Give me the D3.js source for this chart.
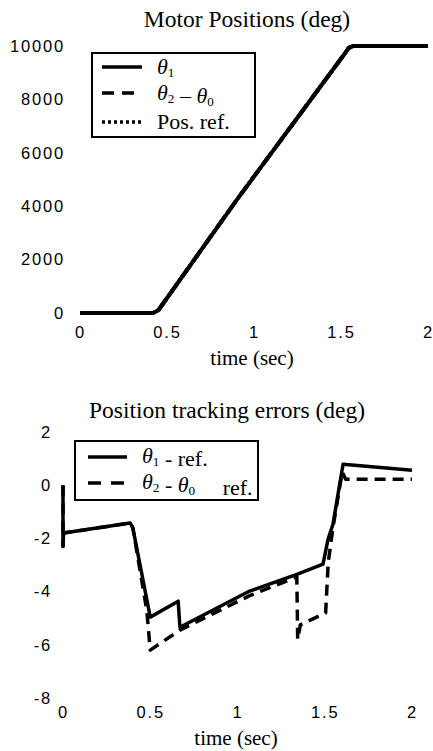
<!DOCTYPE html>
<html>
<head>
<meta charset="utf-8">
<script src="https://cdn.jsdelivr.net/npm/d3@7"></script>
<style>
  body { margin: 0; background: #fff; }
  svg { display: block; }
  .tick text { font-family: "Liberation Sans", Arial, sans-serif; font-size: 16.5px; letter-spacing: 1.8px; fill: #000; }
  .serif { font-family: "Liberation Serif", "Times New Roman", serif; fill: #000; white-space: pre; }
</style>
</head>
<body>
<svg id="chart" width="433" height="751"></svg>
<script>
// --- top panel: motor positions ---
const posTicksX = [0, 0.5, 1, 1.5, 2];
const posTicksY = [0, 2000, 4000, 6000, 8000, 10000];
const posTime   = [0, 0.42, 0.45, 0.48, 0.9, 1.24, 1.52, 1.545, 1.57, 2];
const theta1Pos = [0, 0, 100, 375, 4230, 7230, 9700, 9930, 10000, 10000];
const theta20Pos = [0, 0, 100, 375, 4230, 7230, 9700, 9930, 10000, 10000];
const refPos    = [0, 0, 100, 375, 4230, 7230, 9700, 9930, 10000, 10000];
const posLegend = ["θ_1", "θ_2 – θ_0", "Pos. ref."];

// --- bottom panel: tracking errors ---
const errTicksX = [0, 0.5, 1, 1.5, 2];
const errTicksY = [-8, -6, -4, -2, 0, 2];
const err1Time = [0, 0, 0.003, 0.385, 0.40, 0.5, 0.66, 0.67, 1.07, 1.34, 1.49, 1.519, 1.547, 1.605, 2];
const err1     = [0, -2.3, -1.8, -1.42, -1.6, -4.96, -4.36, -5.34, -3.98, -3.35, -2.97, -2.03, -1.47, 0.79, 0.56];
const err2Time = [0, 0, 0.003, 0.385, 0.40, 0.48, 0.5, 0.67, 1.07, 1.34, 1.345, 1.36, 1.505, 1.52, 1.547, 1.6, 1.62, 2];
const err2     = [0, -2.3, -1.8, -1.42, -1.6, -4.7, -6.2, -5.45, -4.15, -3.45, -5.8, -5.25, -4.8, -2.9, -1.6, 0.5, 0.22, 0.22];
const errLegend = ["θ_1 - ref.", "θ_2 - θ_0     ref."];

const svg = d3.select("#chart");
svg.append("rect").attr("width", 433).attr("height", 751).attr("fill", "#fff");

// write "θ_1" style labels with italic theta and a small subscript
function richText(sel, str) {
  str.split(/(θ_\d)/).filter(s => s.length).forEach(part => {
    if (part.startsWith("θ_")) {
      sel.append("tspan").attr("font-style", "italic").text("θ");
      sel.append("tspan").attr("font-size", "0.6em").attr("dy", 3).text(part[2]);
      sel.append("tspan").attr("dy", -3).text("");
    } else {
      sel.append("tspan").text(part);
    }
  });
}

function drawPanel(cfg) {
  const x = d3.scaleLinear().domain([0, 2]).range(cfg.xRange);
  const y = d3.scaleLinear().domain(cfg.yDomain).range(cfg.yRange);

  const yAxis = svg.append("g")
    .attr("transform", `translate(${cfg.xRange[0]},0)`)
    .call(d3.axisLeft(y).tickValues(cfg.ticksY).tickSize(0).tickPadding(cfg.padY).tickFormat(d => String(d)));
  yAxis.select(".domain").remove();

  const xAxis = svg.append("g")
    .attr("transform", `translate(0,${cfg.yRange[0]})`)
    .call(d3.axisBottom(x).tickValues(cfg.ticksX).tickSize(0).tickPadding(cfg.padX).tickFormat(d => String(d)));
  xAxis.select(".domain").remove();

  svg.append("text").attr("class", "serif")
    .attr("x", cfg.titleX).attr("y", cfg.titleY)
    .attr("text-anchor", "middle").attr("font-size", 23.5)
    .text(cfg.title);

  svg.append("text").attr("class", "serif")
    .attr("x", cfg.labelX).attr("y", cfg.labelY)
    .attr("text-anchor", "middle").attr("font-size", 21)
    .text("time (sec)");

  const line = d3.line().x(d => x(d[0])).y(d => y(d[1]));
  cfg.series.forEach(s => {
    svg.append("path")
      .datum(d3.zip(s.t, s.v))
      .attr("d", line)
      .attr("fill", "none")
      .attr("stroke", "#000")
      .attr("stroke-width", cfg.width)
      .attr("stroke-linejoin", "round")
      .attr("stroke-dasharray", s.dash);
  });

  // legend
  const lg = cfg.legend;
  svg.append("rect")
    .attr("x", lg.x).attr("y", lg.y).attr("width", lg.w).attr("height", lg.h)
    .attr("fill", "#fff").attr("stroke", "#000").attr("stroke-width", 2);
  cfg.series.forEach((s, i) => {
    svg.append("line")
      .attr("x1", lg.sx0).attr("x2", lg.sx1)
      .attr("y1", lg.rows[i]).attr("y2", lg.rows[i])
      .attr("stroke", "#000").attr("stroke-width", 3.5)
      .attr("stroke-dasharray", s.legendDash || s.dash);
    const t = svg.append("text").attr("class", "serif")
      .attr("x", lg.tx).attr("y", lg.rows[i] + lg.base)
      .attr("font-size", 22);
    richText(t, s.label);
  });
}

drawPanel({
  xRange: [80, 428], yDomain: [0, 10000], yRange: [313, 46],
  ticksX: posTicksX, ticksY: posTicksY, padY: 15, padX: 13,
  title: "Motor Positions (deg)", titleX: 247, titleY: 27,
  labelX: 252, labelY: 365, width: 4,
  series: [
    { t: posTime, v: theta1Pos, dash: null, label: posLegend[0] },
    { t: posTime, v: theta20Pos, dash: "12,8", label: posLegend[1] },
    { t: posTime, v: refPos, dash: "3,3", label: posLegend[2] }
  ],
  legend: { x: 92, y: 53, w: 163, h: 84, sx0: 102, sx1: 142, tx: 157, rows: [67, 93, 122], base: 7 }
});

drawPanel({
  xRange: [63, 412], yDomain: [-8, 2], yRange: [698, 432],
  ticksX: errTicksX, ticksY: errTicksY, padY: 11, padX: 8,
  title: "Position tracking errors (deg)", titleX: 227, titleY: 418,
  labelX: 236, labelY: 745, width: 3.5,
  series: [
    { t: err1Time, v: err1, dash: null, label: errLegend[0] },
    { t: err2Time, v: err2, dash: "11,7", legendDash: "13,10", label: errLegend[1] }
  ],
  legend: { x: 75, y: 441, w: 183, h: 59, sx0: 88, sx1: 127, tx: 142, rows: [457, 483], base: 6 }
});
</script>
</body>
</html>
